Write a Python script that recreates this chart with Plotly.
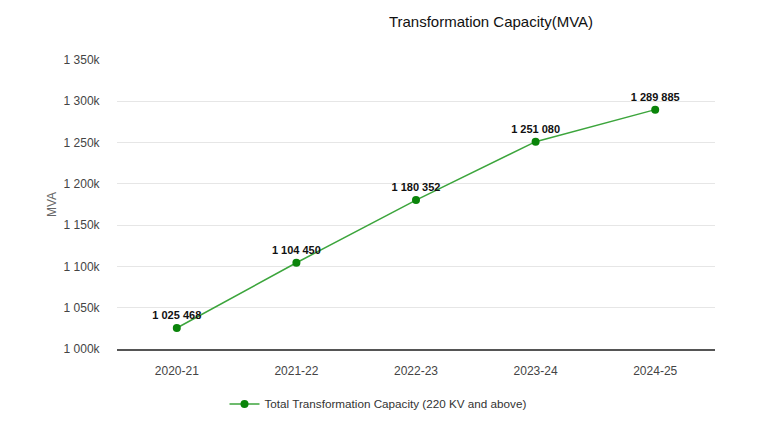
import plotly.graph_objects as go

years = ["2020-21", "2021-22", "2022-23", "2023-24", "2024-25"]
capacity = [1025468, 1104450, 1180352, 1251080, 1289885]
tick_vals = [1000000, 1050000, 1100000, 1150000, 1200000, 1250000, 1300000, 1350000]
tick_text = ["1 000k", "1 050k", "1 100k", "1 150k", "1 200k", "1 250k", "1 300k", "1 350k"]
series_name = "Total Transformation Capacity (220 KV and above)"

def fmt(v):
    return f"{v:,}".replace(",", " ")

fig = go.Figure()
fig.add_trace(go.Scatter(
    x=years, y=capacity, mode="lines+markers+text", name=series_name,
    line=dict(color="#3ca53c", width=1.5),
    marker=dict(color="#0a840a", size=8),
    text=[fmt(v) for v in capacity], textposition="top center",
    textfont=dict(family="Liberation Sans, Arial, sans-serif", size=11, color="#111111", weight="bold"),
    cliponaxis=False,
))

fig.update_layout(
    width=768, height=432,
    margin=dict(l=109, r=61, t=52, b=91),
    paper_bgcolor="white", plot_bgcolor="white",
    font=dict(family="Liberation Sans, Arial, sans-serif", size=12, color="#444444"),
    title=dict(text="Transformation Capacity(MVA)", x=483/768, xanchor="center",
               y=1 - 14/432, yanchor="middle",
               font=dict(size=15, color="#111111")),
    showlegend=True,
    legend=dict(orientation="h", x=(378-117)/598, xanchor="center", y=-0.19, yanchor="middle",
                font=dict(size=11.7, color="#333333")),
    xaxis=dict(range=[-0.5, 4.5], showgrid=False, showline=True, linecolor="#555555",
               linewidth=1.5, ticks="outside", ticklen=10, tickcolor="rgba(0,0,0,0)",
               tickfont=dict(size=12, color="#444444")),
    yaxis=dict(range=[1000000, 1350000], tickvals=tick_vals, ticktext=tick_text,
               showgrid=True, gridcolor="#e6e6e6", gridwidth=1, zeroline=False,
               ticks="outside", ticklen=14, tickcolor="rgba(0,0,0,0)",
               title=dict(text="MVA", font=dict(size=12, color="#666666"), standoff=4),
               tickfont=dict(size=12, color="#444444")),
)

fig.write_html("out.html")
